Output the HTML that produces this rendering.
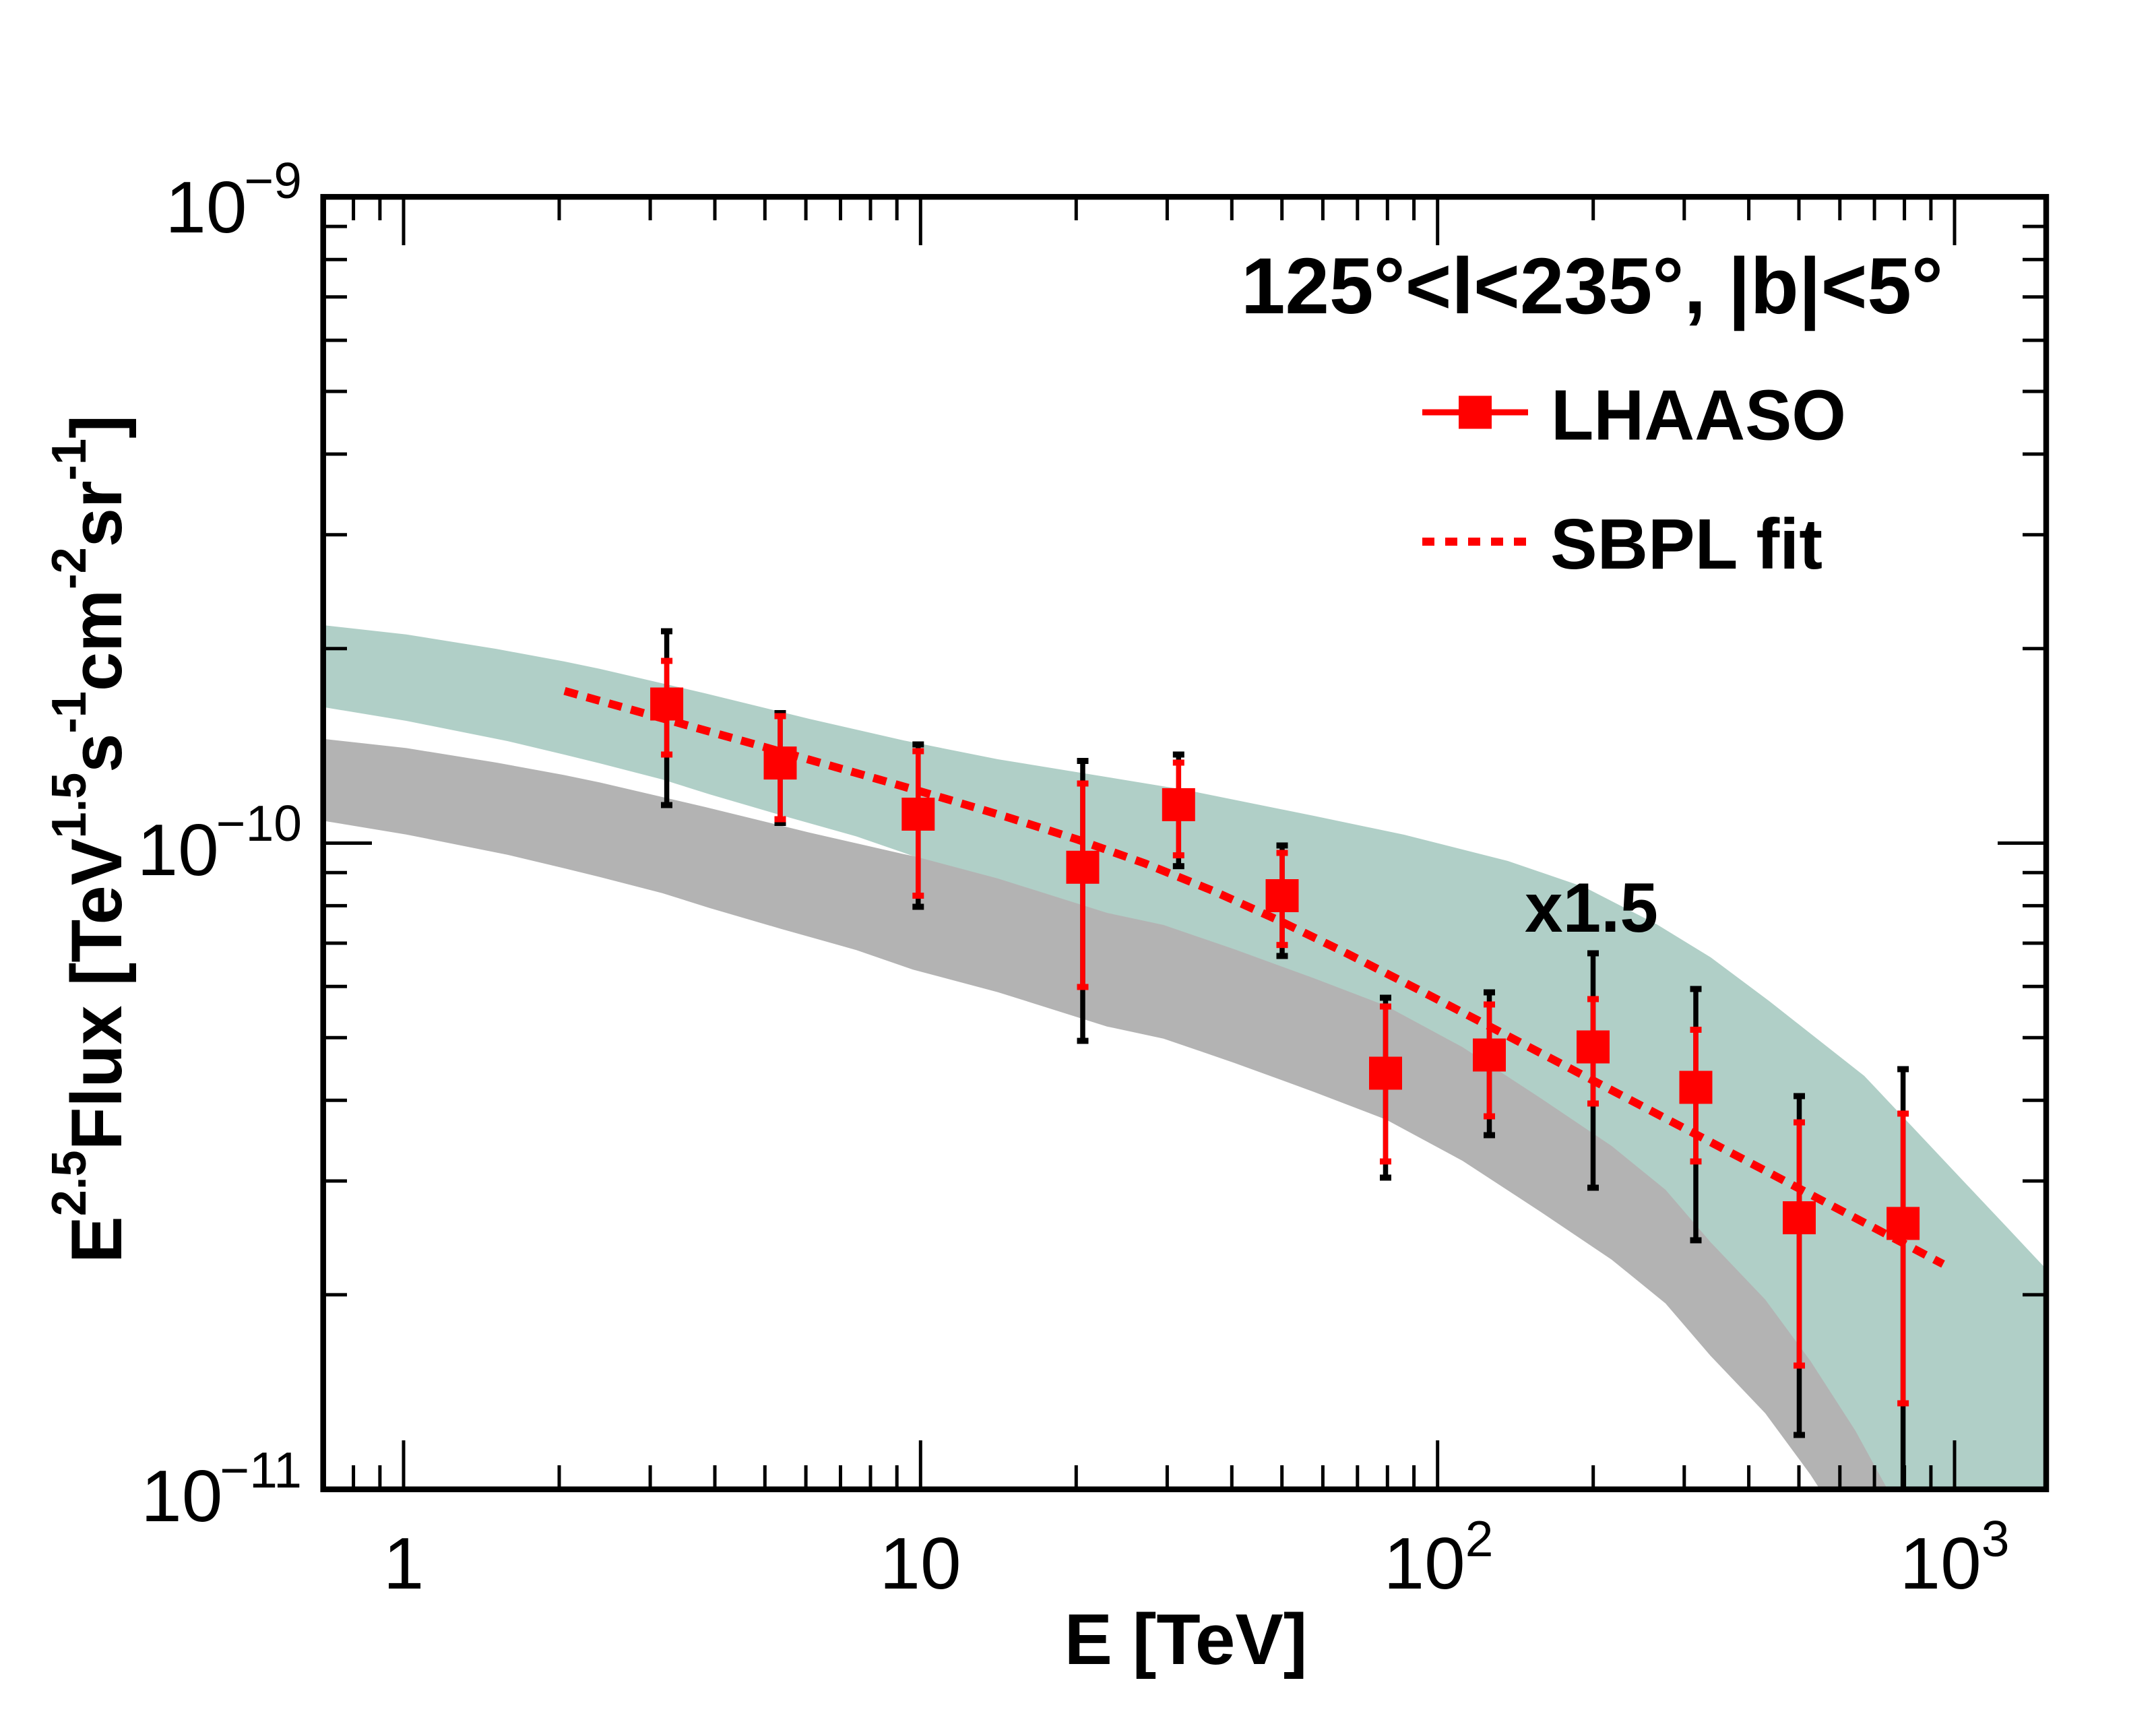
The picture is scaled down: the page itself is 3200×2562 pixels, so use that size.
<!DOCTYPE html>
<html><head><meta charset="utf-8"><style>
html,body{margin:0;padding:0;background:#fff;width:3200px;height:2562px;overflow:hidden;}
svg{display:block;}
text{font-family:"Liberation Sans",Arial,Helvetica,sans-serif;fill:#000;}
</style></head><body>
<svg width="3200" height="2562" viewBox="0 0 3200 2562" xmlns="http://www.w3.org/2000/svg" overflow="hidden">
<defs>
<clipPath id="pc"><rect x="480" y="292" width="2557" height="1918"/></clipPath>
</defs>
<rect x="0" y="0" width="3200" height="2562" fill="#fff"/>
<g clip-path="url(#pc)">
<polygon transform="translate(0,168.7)" fill="#b3b3b3" points="482,928.3 603,941.7 737,963.3 837,981.7 890,992.7 1046,1029 1201,1067 1341,1099 1481,1127 1622,1150 1762,1173 1950,1211 2084,1239 2238,1278 2352,1317 2459,1372 2539,1421 2626,1486 2767,1597 2834,1668 2914,1753 2981,1824 3040,1887 3040,2400 2850,2290 2800,2208 2754,2124 2687,2020 2620,1929 2539,1844 2472,1766 2392,1701 2285,1629 2171,1554.5 2057,1493 1950,1452 1832,1409 1727,1373 1643,1355 1481,1304 1355,1270.5 1271,1241.5 1159,1210 1053,1179 983,1157 890,1133 837,1120 753,1100 603,1070 482,1050"/>
<polygon fill="#b0cfc7" points="482,928.3 603,941.7 737,963.3 837,981.7 890,992.7 1046,1029 1201,1067 1341,1099 1481,1127 1622,1150 1762,1173 1950,1211 2084,1239 2238,1278 2352,1317 2459,1372 2539,1421 2626,1486 2767,1597 2834,1668 2914,1753 2981,1824 3040,1887 3040,2400 2850,2290 2800,2208 2754,2124 2687,2020 2620,1929 2539,1844 2472,1766 2392,1701 2285,1629 2171,1554.5 2057,1493 1950,1452 1832,1409 1727,1373 1643,1355 1481,1304 1355,1270.5 1271,1241.5 1159,1210 1053,1179 983,1157 890,1133 837,1120 753,1100 603,1070 482,1050"/>

<g stroke="#000" stroke-width="7.5" fill="#000">
<line x1="989.6" y1="937" x2="989.6" y2="1195"/><rect x="981" y="932.5" width="17" height="9" stroke="none"/><rect x="981" y="1190.5" width="17" height="9" stroke="none"/>
<line x1="1158" y1="1058.5" x2="1158" y2="1221.4"/><rect x="1149.5" y="1054" width="17" height="9" stroke="none"/><rect x="1149.5" y="1217" width="17" height="9" stroke="none"/>
<line x1="1362.8" y1="1105" x2="1362.8" y2="1346"/><rect x="1354.3" y="1100.5" width="17" height="9" stroke="none"/><rect x="1354.3" y="1341.5" width="17" height="9" stroke="none"/>
<line x1="1607" y1="1129.5" x2="1607" y2="1545"/><rect x="1598.5" y="1125" width="17" height="9" stroke="none"/><rect x="1598.5" y="1540.5" width="17" height="9" stroke="none"/>
<line x1="1749.3" y1="1120" x2="1749.3" y2="1285.7"/><rect x="1740.8" y="1115.5" width="17" height="9" stroke="none"/><rect x="1740.8" y="1281.2" width="17" height="9" stroke="none"/>
<line x1="1903" y1="1255" x2="1903" y2="1419"/><rect x="1894.5" y="1250.5" width="17" height="9" stroke="none"/><rect x="1894.5" y="1414.5" width="17" height="9" stroke="none"/>
<line x1="2056.5" y1="1481" x2="2056.5" y2="1748"/><rect x="2048" y="1476.5" width="17" height="9" stroke="none"/><rect x="2048" y="1743.5" width="17" height="9" stroke="none"/>
<line x1="2210.5" y1="1473" x2="2210.5" y2="1685"/><rect x="2202" y="1468.5" width="17" height="9" stroke="none"/><rect x="2202" y="1680.5" width="17" height="9" stroke="none"/>
<line x1="2364.5" y1="1415" x2="2364.5" y2="1763"/><rect x="2356" y="1410.5" width="17" height="9" stroke="none"/><rect x="2356" y="1758.5" width="17" height="9" stroke="none"/>
<line x1="2517" y1="1468" x2="2517" y2="1841"/><rect x="2508.5" y="1463.5" width="17" height="9" stroke="none"/><rect x="2508.5" y="1836.5" width="17" height="9" stroke="none"/>
<line x1="2670.5" y1="1627" x2="2670.5" y2="2130"/><rect x="2662" y="1622.5" width="17" height="9" stroke="none"/><rect x="2662" y="2125.5" width="17" height="9" stroke="none"/>
<line x1="2824.6" y1="1587" x2="2824.6" y2="2212"/><rect x="2816.1" y="1582.5" width="17" height="9" stroke="none"/>
</g>
<g stroke="#f00" stroke-width="7.5" fill="#f00">
<line x1="989.6" y1="981" x2="989.6" y2="1120"/><rect x="981.1" y="976.5" width="17" height="9" stroke="none"/><rect x="981.1" y="1115.5" width="17" height="9" stroke="none"/>
<line x1="1158" y1="1063" x2="1158" y2="1216"/><rect x="1149.5" y="1058.5" width="17" height="9" stroke="none"/><rect x="1149.5" y="1211.5" width="17" height="9" stroke="none"/>
<line x1="1362.8" y1="1115" x2="1362.8" y2="1329.5"/><rect x="1354.3" y="1110.5" width="17" height="9" stroke="none"/><rect x="1354.3" y="1325" width="17" height="9" stroke="none"/>
<line x1="1607" y1="1163" x2="1607" y2="1465"/><rect x="1598.5" y="1158.5" width="17" height="9" stroke="none"/><rect x="1598.5" y="1460.5" width="17" height="9" stroke="none"/>
<line x1="1749.3" y1="1132" x2="1749.3" y2="1269.6"/><rect x="1740.8" y="1127.5" width="17" height="9" stroke="none"/><rect x="1740.8" y="1265.1" width="17" height="9" stroke="none"/>
<line x1="1903" y1="1266" x2="1903" y2="1402.7"/><rect x="1894.5" y="1261.5" width="17" height="9" stroke="none"/><rect x="1894.5" y="1398.2" width="17" height="9" stroke="none"/>
<line x1="2056.5" y1="1494" x2="2056.5" y2="1724"/><rect x="2048" y="1489.5" width="17" height="9" stroke="none"/><rect x="2048" y="1719.5" width="17" height="9" stroke="none"/>
<line x1="2210.5" y1="1491" x2="2210.5" y2="1657"/><rect x="2202" y="1486.5" width="17" height="9" stroke="none"/><rect x="2202" y="1652.5" width="17" height="9" stroke="none"/>
<line x1="2364.5" y1="1483" x2="2364.5" y2="1638"/><rect x="2356" y="1478.5" width="17" height="9" stroke="none"/><rect x="2356" y="1633.5" width="17" height="9" stroke="none"/>
<line x1="2517" y1="1528.5" x2="2517" y2="1724"/><rect x="2508.5" y="1524" width="17" height="9" stroke="none"/><rect x="2508.5" y="1719.5" width="17" height="9" stroke="none"/>
<line x1="2670.5" y1="1666" x2="2670.5" y2="2027"/><rect x="2662" y="1661.5" width="17" height="9" stroke="none"/><rect x="2662" y="2022.5" width="17" height="9" stroke="none"/>
<line x1="2824.6" y1="1653" x2="2824.6" y2="2083"/><rect x="2816.1" y="1648.5" width="17" height="9" stroke="none"/><rect x="2816.1" y="2078.5" width="17" height="9" stroke="none"/>
</g>
<g fill="#f00">
<rect x="965.1" y="1020.5" width="49" height="49"/>
<rect x="1133.5" y="1108.1" width="49" height="49"/>
<rect x="1338.3" y="1184" width="49" height="49"/>
<rect x="1582.5" y="1262.8" width="49" height="49"/>
<rect x="1724.8" y="1169.9" width="49" height="49"/>
<rect x="1878.5" y="1305" width="49" height="49"/>
<rect x="2032" y="1568.5" width="49" height="49"/>
<rect x="2186" y="1541.5" width="49" height="49"/>
<rect x="2340" y="1529.5" width="49" height="49"/>
<rect x="2492.5" y="1589.5" width="49" height="49"/>
<rect x="2646" y="1783.1" width="49" height="49"/>
<rect x="2800.1" y="1791.5" width="49" height="49"/>
</g>
<polyline fill="none" stroke="#f00" stroke-width="12" stroke-dasharray="20 14" points="838,1025.65 900,1043.0 1000,1071.06 1100,1099.13 1200,1127.3 1300,1155.68 1400,1184.55 1500,1214.45 1600,1246.41 1700,1281.89 1800,1322.14 1900,1367.16 2000,1415.70 2100,1466.30 2200,1517.93 2300,1570.04 2400,1622.39 2500,1674.81 2600,1727.27 2700,1779.76 2800,1832.25 2884,1876.36"/>
</g>

<g stroke="#000" stroke-width="5" fill="none">
<path d="M480 1921.9h35M480 1753h35M480 1633.2h35M480 1540.2h35M480 1464.3h35M480 1400h35M480 1344.4h35M480 1295.3h35M480 1251.5h72M480 962.7h35M480 793.8h35M480 674h35M480 581h35M480 505.1h35M480 440.8h35M480 385.2h35M480 336.1h35"/>
<path d="M3037 1921.9h-35M3037 1753h-35M3037 1633.2h-35M3037 1540.2h-35M3037 1464.3h-35M3037 1400h-35M3037 1344.4h-35M3037 1295.3h-35M3037 1251.5h-72M3037 962.7h-35M3037 793.8h-35M3037 674h-35M3037 581h-35M3037 505.1h-35M3037 440.8h-35M3037 385.2h-35M3037 336.1h-35"/>
<path d="M524.6 2210v-35M563.9 2210v-35M599 2210v-72M830 2210v-35M965.1 2210v-35M1061 2210v-35M1135.3 2210v-35M1196.1 2210v-35M1247.5 2210v-35M1292 2210v-35M1331.2 2210v-35M1366.3 2210v-72M1597.3 2210v-35M1732.4 2210v-35M1828.3 2210v-35M1902.7 2210v-35M1963.4 2210v-35M2014.8 2210v-35M2059.3 2210v-35M2098.6 2210v-35M2133.7 2210v-72M2364.7 2210v-35M2499.8 2210v-35M2595.6 2210v-35M2670 2210v-35M2730.8 2210v-35M2782.1 2210v-35M2826.6 2210v-35M2865.9 2210v-35M2901 2210v-72"/>
<path d="M524.6 292v35M563.9 292v35M599 292v72M830 292v35M965.1 292v35M1061 292v35M1135.3 292v35M1196.1 292v35M1247.5 292v35M1292 292v35M1331.2 292v35M1366.3 292v72M1597.3 292v35M1732.4 292v35M1828.3 292v35M1902.7 292v35M1963.4 292v35M2014.8 292v35M2059.3 292v35M2098.6 292v35M2133.7 292v72M2364.7 292v35M2499.8 292v35M2595.6 292v35M2670 292v35M2730.8 292v35M2782.1 292v35M2826.6 292v35M2865.9 292v35M2901 292v72"/>
</g>
<rect x="479.7" y="292.2" width="2557.3" height="1918.5" fill="none" stroke="#000" stroke-width="8.5"/>

<text x="448" y="345" text-anchor="end" font-size="109">10<tspan font-size="75" dy="-51" dx="-4">−9</tspan></text>
<text x="448" y="1299" text-anchor="end" font-size="109">10<tspan font-size="75" dy="-51" dx="-4">−10</tspan></text>
<text x="448" y="2258" text-anchor="end" font-size="109">10<tspan font-size="75" dy="-50" dx="-4">−11</tspan></text>

<text x="599" y="2358" text-anchor="middle" font-size="109">1</text>
<text x="1366" y="2358" text-anchor="middle" font-size="109">10</text>
<text x="2135" y="2358" text-anchor="middle" font-size="109">10<tspan font-size="75" dy="-48">2</tspan></text>
<text x="2901" y="2358" text-anchor="middle" font-size="109">10<tspan font-size="75" dy="-48">3</tspan></text>

<text x="1760" y="2470" text-anchor="middle" font-size="107" font-weight="bold">E [TeV]</text>
<g transform="translate(180,1245.5) rotate(-90)">
<text x="0" y="0" text-anchor="middle" font-size="107" font-weight="bold" textLength="1259" lengthAdjust="spacingAndGlyphs">E<tspan font-size="72" dy="-53">2.5</tspan><tspan dy="53">Flux [TeV</tspan><tspan font-size="72" dy="-53">1.5</tspan><tspan dy="53">s</tspan><tspan font-size="72" dy="-53">-1</tspan><tspan dy="53">cm</tspan><tspan font-size="72" dy="-53">-2</tspan><tspan dy="53">sr</tspan><tspan font-size="72" dy="-53">-1</tspan><tspan dy="53">]</tspan></text>
</g>

<text x="1842" y="465" font-size="118" font-weight="bold" textLength="1042" lengthAdjust="spacingAndGlyphs">125°&lt;l&lt;235°, |b|&lt;5°</text>

<line x1="2111" y1="612" x2="2268" y2="612" stroke="#f00" stroke-width="9"/>
<rect x="2165" y="587.5" width="49" height="49" fill="#f00"/>
<text x="2302" y="652.5" font-size="106" font-weight="bold" textLength="438" lengthAdjust="spacingAndGlyphs">LHAASO</text>
<line x1="2111" y1="804" x2="2265" y2="804" stroke="#f00" stroke-width="12" stroke-dasharray="18 16"/>
<text x="2301" y="844" font-size="106" font-weight="bold" textLength="404" lengthAdjust="spacingAndGlyphs">SBPL fit</text>

<text x="2263" y="1383" font-size="104" font-weight="bold" textLength="198" lengthAdjust="spacingAndGlyphs">x1.5</text>
</svg>
</body></html>
